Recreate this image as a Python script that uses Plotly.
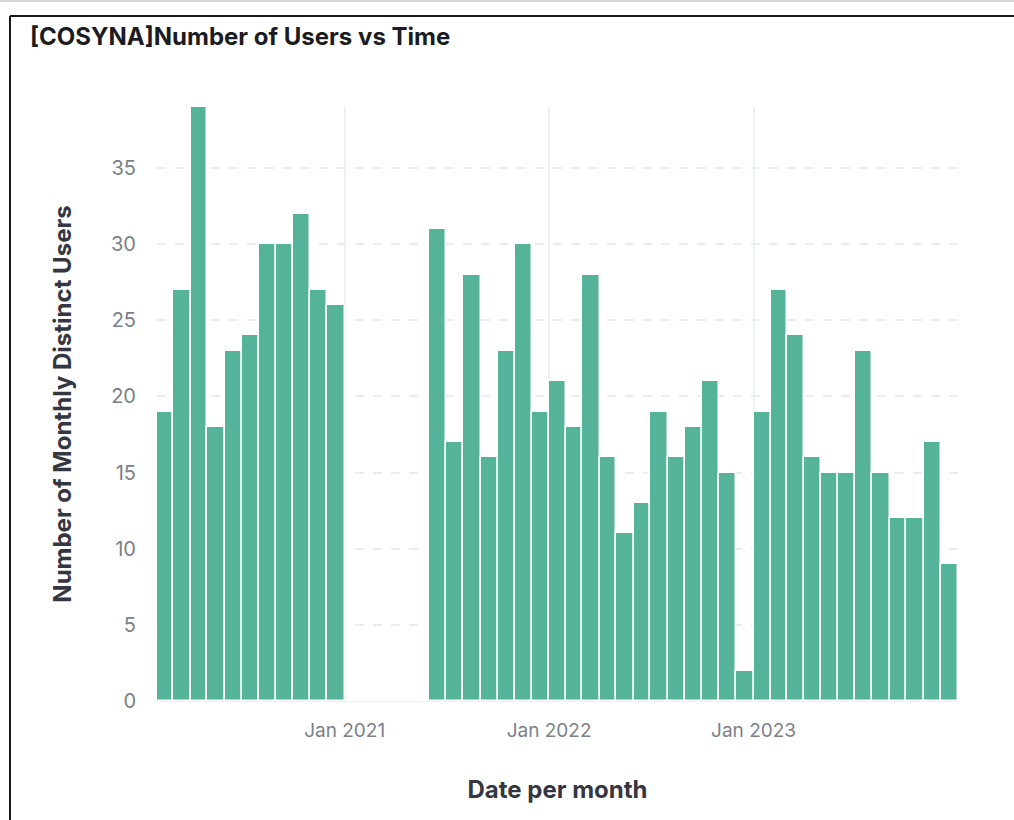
import plotly.graph_objects as go
import pandas as pd

months = (
    ["2020-%02d-01" % m for m in range(2, 13)]
    + ["2021-%02d-01" % m for m in range(6, 13)]
    + ["2022-%02d-01" % m for m in range(1, 13)]
    + ["2023-%02d-01" % m for m in range(1, 13)]
)
users = [19, 27, 39, 18, 23, 24, 30, 30, 32, 27, 26,
         31, 17, 28, 16, 23, 30, 19,
         21, 18, 28, 16, 11, 13, 19, 16, 18, 21, 15, 2,
         19, 27, 24, 16, 15, 15, 23, 15, 12, 12, 17, 9]
tick_vals = ["2021-01-01", "2022-01-01", "2023-01-01"]
tick_text = ["Jan 2021", "Jan 2022", "Jan 2023"]
y_ticks = [0, 5, 10, 15, 20, 25, 30, 35]

starts = pd.to_datetime(months)
ends = starts + pd.offsets.MonthBegin(1)
widths = [(e - s).total_seconds() * 1000 for s, e in zip(starts, ends)]

fig = go.Figure()
fig.add_trace(go.Bar(
    x=months, y=users, width=widths, offset=0,
    marker=dict(color="#54B399", line=dict(color="white", width=1.5)),
    hovertemplate="%{x|%b %Y}: %{y}<extra></extra>",
))

W, H = 1014, 820
L, R, T, B = 157, 56, 107, 119
pw, ph = W - L - R, H - T - B

def px(x):
    return (x - L) / pw

def py(y):
    return (H - B - y) / ph

fig.update_layout(
    width=W, height=H,
    margin=dict(l=L, r=R, t=T, b=B),
    paper_bgcolor="white", plot_bgcolor="white",
    font=dict(family="Inter, sans-serif", color="#7a7f8a", size=19),
    showlegend=False,
    bargap=0,
    title=dict(text="<b>[COSYNA]Number of Users vs Time</b>",
               x=30 / W, xref="container", xanchor="left",
               y=1 - 37 / H, yref="container", yanchor="middle",
               font=dict(size=24, color="#1a1c21", family="Inter, sans-serif")),
    xaxis=dict(
        type="date",
        range=["2020-02-01", "2024-01-01"],
        tickvals=tick_vals, ticktext=tick_text,
        showgrid=True, gridcolor="#eef0f3", gridwidth=2,
        ticks="outside", ticklen=12, tickcolor="rgba(0,0,0,0)",
        tickfont=dict(size=19, color="#7a7f8a"),
        showline=True, linecolor="#eef0f3", linewidth=1,
        zeroline=False,
        title=dict(text="<b>Date per month</b>", standoff=40,
                   font=dict(size=24, color="#343741")),
    ),
    yaxis=dict(
        range=[0, 39],
        tickvals=y_ticks,
        showgrid=True, gridcolor="#e9ecf0", gridwidth=1.5, griddash="dash",
        ticks="outside", ticklen=16, tickcolor="rgba(0,0,0,0)",
        tickfont=dict(size=20, color="#7a7f8a"),
        zeroline=False,
        title=dict(text="<b>Number of Monthly Distinct Users</b>", standoff=32,
                   font=dict(size=24, color="#343741")),
    ),
    shapes=[
        dict(type="line", xref="paper", yref="paper",
             x0=px(0), x1=px(W), y0=py(1), y1=py(1),
             line=dict(color="#d3d6db", width=2)),
        dict(type="line", xref="paper", yref="paper",
             x0=px(10), x1=px(W + 5), y0=py(16), y1=py(16),
             line=dict(color="#1a1a1a", width=2)),
        dict(type="line", xref="paper", yref="paper",
             x0=px(10), x1=px(10), y0=py(16), y1=py(H + 5),
             line=dict(color="#1a1a1a", width=2)),
    ],
)

fig.write_html("out.html", config={"displayModeBar": False},
               post_script="document.body.style.margin='0';document.body.style.overflow='hidden';")
